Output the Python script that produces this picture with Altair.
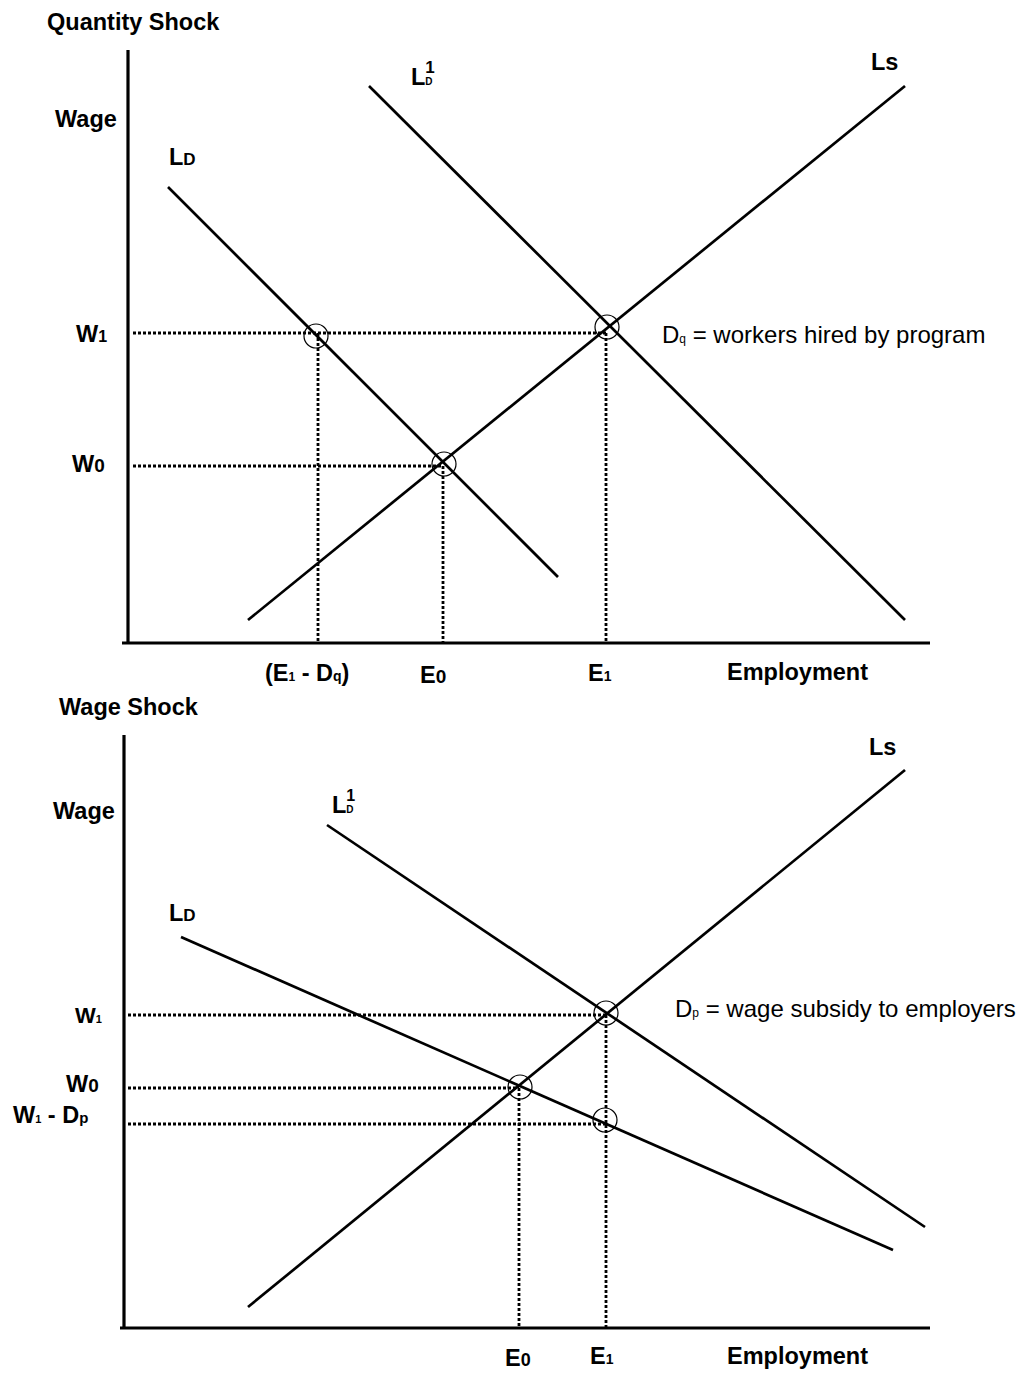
import altair as alt
import pandas as pd

FONT = "Liberation Sans"

# ================= DATA (diagram units, origin at the corner of the axes) =================
# ---- Panel 1: Quantity Shock ----
q_curve_names = ["LD", "LD1", "LS"]
q_curve_x0 = [40, 241, 120]
q_curve_y0 = [456, 557, 23]
q_curve_x1 = [430, 777, 777]
q_curve_y1 = [66, 23, 557]
q_wage_names = ["W1", "W0"]
q_wage_levels = [310, 177]
q_wage_reach = [478, 315]
q_emp_names = ["E1 - Dq", "E0", "E1"]
q_emp_levels = [190, 315, 478]
q_emp_reach = [310, 177, 310]
q_circle_x = [188, 316, 479]
q_circle_y = [307, 179, 316]
q_axis_xmax, q_axis_ymax = 802, 593

# ---- Panel 2: Wage Shock ----
w_curve_names = ["LD", "LD1", "LS"]
w_curve_x0 = [57, 203, 124]
w_curve_y0 = [391, 503, 21]
w_curve_x1 = [769, 801, 781]
w_curve_y1 = [78, 101, 558]
w_wage_names = ["W1", "W0", "W1 - Dp"]
w_wage_levels = [313, 240, 204]
w_wage_reach = [482, 395, 481]
w_emp_names = ["E0", "E1"]
w_emp_levels = [395, 482]
w_emp_reach = [240, 313]
w_circle_x = [482, 396, 481]
w_circle_y = [315, 241, 208]
w_axis_xmax, w_axis_ymax = 806, 593

# ================= text-width helper (Arial metrics, per 1000 em) =================
BOLD_W = {" ": 278, "(": 333, ")": 333, "-": 333, "=": 584, "D": 722, "E": 667, "L": 611,
          "W": 944, "S": 667, "Q": 778, "a": 556, "b": 611, "c": 556, "d": 611, "e": 556,
          "g": 611, "h": 611, "i": 278, "k": 556, "l": 278, "m": 889, "n": 611, "o": 611,
          "p": 611, "q": 611, "r": 389, "s": 556, "t": 333, "u": 611, "w": 778, "y": 556}
REG_W = {" ": 278, "=": 584, "D": 722, "a": 556, "b": 556, "c": 500, "d": 556, "e": 556,
         "g": 556, "h": 556, "i": 222, "k": 500, "l": 222, "m": 833, "n": 556, "o": 556,
         "p": 556, "q": 556, "r": 333, "s": 500, "t": 278, "u": 556, "w": 722, "y": 500}


def text_width(t, size, bold):
    table = BOLD_W if bold else REG_W
    return sum(table.get(c, 556) for c in t) * size / 1000.0


def segments(x, y, parts, bold=True):
    """parts: (text, size, dy, advance); leading/trailing blanks become x advance"""
    rows = []
    cx = x
    for p in parts:
        t, s = p[0], p[1]
        dy = p[2] if len(p) > 2 else 0
        adv = p[3] if len(p) > 3 else True
        lead = len(t) - len(t.lstrip(" "))
        core = t.strip(" ")
        trail = len(t) - len(t.rstrip(" "))
        start = cx + text_width(" " * lead, s, bold)
        rows.append({"x": start, "y": y + dy, "text": core, "size": s})
        if adv:
            cx = start + text_width(core, s, bold) + text_width(" " * trail, s, bold)
    return rows


def panel(w, h, xdom, ydom, cx0, cy0, cx1, cy1, axis_xmin, axis_xmax, axis_ymax,
          wage_lv, wage_reach, dot_x0, emp_lv, emp_reach, circ_x, circ_y,
          bold_rows, reg_rows):
    X = lambda f: alt.X(f, type="quantitative", scale=alt.Scale(domain=xdom, nice=False, zero=False), axis=None)
    Y = lambda f: alt.Y(f, type="quantitative", scale=alt.Scale(domain=ydom, nice=False, zero=False), axis=None)

    curves = pd.DataFrame({"x": cx0, "y": cy0, "x2": cx1, "y2": cy1})
    axes = pd.DataFrame({"x": [0, axis_xmin], "y": [0, 0], "x2": [0, axis_xmax], "y2": [axis_ymax, 0]})
    hdots = pd.DataFrame({"x": [dot_x0] * len(wage_lv), "y": wage_lv, "x2": wage_reach, "y2": wage_lv})
    vdots = pd.DataFrame({"x": emp_lv, "y": emp_reach, "x2": emp_lv, "y2": [0] * len(emp_lv)})
    dots = pd.concat([hdots, vdots], ignore_index=True)
    circles = pd.DataFrame({"x": circ_x, "y": circ_y})

    enc_rule = dict(x=X("x"), y=Y("y"), x2="x2", y2="y2")
    l_curves = alt.Chart(curves).mark_rule(color="black", strokeWidth=2.7).encode(**enc_rule)
    l_axes = alt.Chart(axes).mark_rule(color="black", strokeWidth=3.2).encode(**enc_rule)
    l_dots = alt.Chart(dots).mark_rule(color="black", strokeWidth=2.8, strokeDash=[3, 2]).encode(**enc_rule)
    l_circ = alt.Chart(circles).mark_point(shape="circle", filled=False, size=576, color="black",
                                           strokeWidth=1.2, opacity=1).encode(x=X("x"), y=Y("y"))
    l_bold = alt.Chart(pd.DataFrame(bold_rows)).mark_text(
        align="left", baseline="alphabetic", font=FONT, fontWeight="bold", color="black"
    ).encode(x=X("x"), y=Y("y"), text="text:N", size=alt.Size("size:Q", scale=None, legend=None))
    l_reg = alt.Chart(pd.DataFrame(reg_rows)).mark_text(
        align="left", baseline="alphabetic", font=FONT, fontWeight="normal", color="black"
    ).encode(x=X("x"), y=Y("y"), text="text:N", size=alt.Size("size:Q", scale=None, legend=None))
    return alt.layer(l_dots, l_axes, l_curves, l_circ, l_bold, l_reg).properties(width=w, height=h)


B = 23.5  # main bold label size

# ---- labels: panel 1 ----
q_bold = []
q_bold += segments(-81, 613, [("Quantity Shock", B)])
q_bold += segments(-73, 516, [("Wage", B)])
q_bold += segments(41, 478, [("L", B), ("D", 17)])
q_bold += segments(283, 558, [("L", B), ("D", 10, 0, False), ("1", 17, 12)])
q_bold += segments(743, 573, [("Ls", B)])
q_bold += segments(-52, 301, [("W", B), ("1", 16)])
q_bold += segments(-56, 171, [("W", B), ("0", 19)])
q_bold += segments(137, -38, [("(E", B), ("1", 12), (" - D", B), ("q", 14), (")", B)])
q_bold += segments(292, -40, [("E", B), ("0", 19)])
q_bold += segments(460, -38, [("E", B), ("1", 14)])
q_bold += segments(599, -37, [("Employment", B)])
q_reg = segments(534, 300, [("D", 24), ("q", 12), (" = workers hired by program", 24)], bold=False)

# ---- labels: panel 2 ----
w_bold = []
w_bold += segments(-65, 613, [("Wage Shock", B)])
w_bold += segments(-71, 509, [("Wage", B)])
w_bold += segments(208, 515, [("L", B), ("D", 10, 0, False), ("1", 16, 12)])
w_bold += segments(45, 407, [("L", B), ("D", 17)])
w_bold += segments(745, 573, [("Ls", B)])
w_bold += segments(-49, 305, [("W", 22), ("1", 11)])
w_bold += segments(-58, 236, [("W", B), ("0", 19)])
w_bold += segments(-111, 205, [("W", B), ("1", 11), (" - D", B), ("p", 15)])
w_bold += segments(381, -38, [("E", B), ("0", 18)])
w_bold += segments(466, -36, [("E", B), ("1", 14)])
w_bold += segments(603, -36, [("Employment", B)])
w_reg = segments(551, 311, [("D", 24), ("p", 12), (" = wage subsidy to employers", 24)], bold=False)

top = panel(1010, 682, [-120, 890], [-47, 635], q_curve_x0, q_curve_y0, q_curve_x1, q_curve_y1,
            -6, q_axis_xmax, q_axis_ymax, q_wage_levels, q_wage_reach, 5,
            q_emp_levels, q_emp_reach, q_circle_x, q_circle_y, q_bold, q_reg)
bottom = panel(1010, 676, [-116, 894], [-38, 638], w_curve_x0, w_curve_y0, w_curve_x1, w_curve_y1,
               -4, w_axis_xmax, w_axis_ymax, w_wage_levels, w_wage_reach, 4,
               w_emp_levels, w_emp_reach, w_circle_x, w_circle_y, w_bold, w_reg)

chart = alt.vconcat(top, bottom, spacing=0).properties(
    bounds="flush", padding=0
).configure_view(stroke=None)

chart.save("out.html", embed_options={"renderer": "svg", "actions": False})
